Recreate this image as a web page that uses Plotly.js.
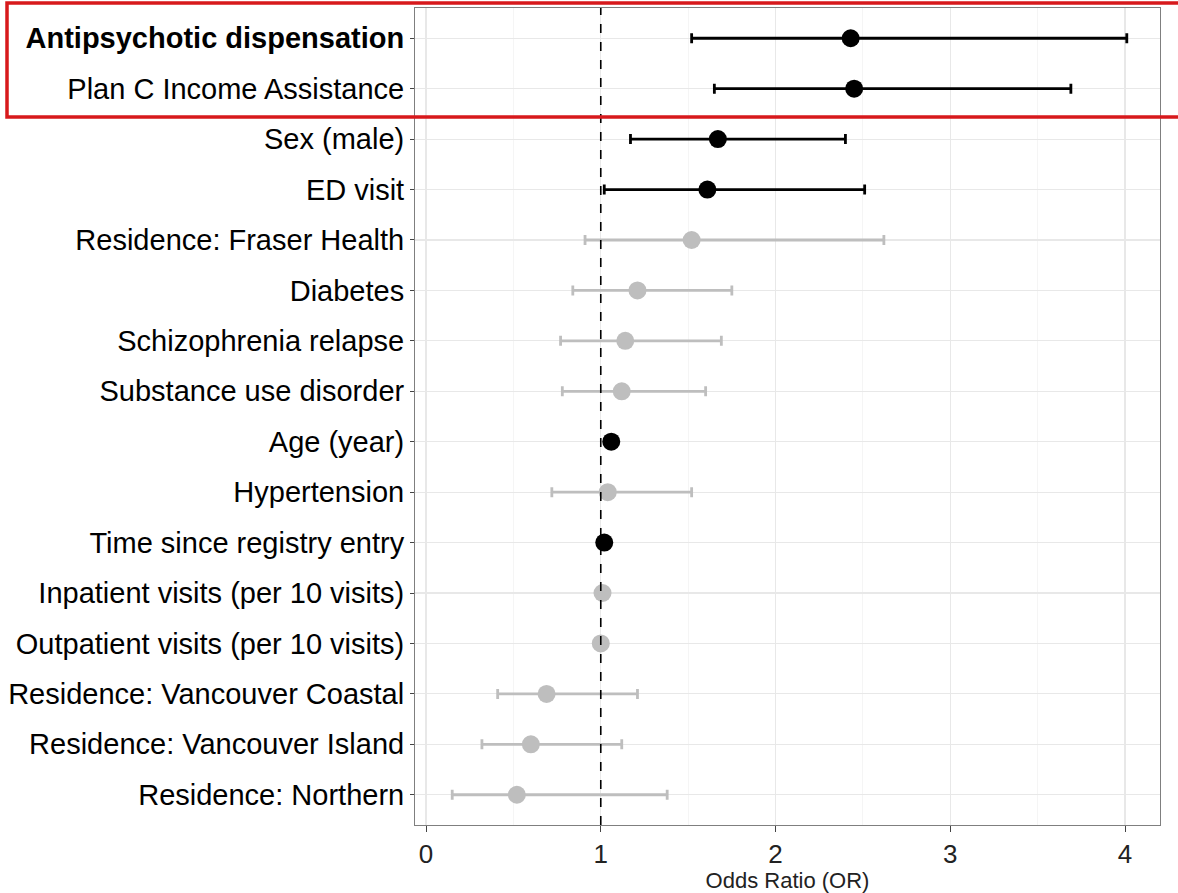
<!DOCTYPE html>
<html>
<head>
<meta charset="utf-8">
<script src="https://cdn.plot.ly/plotly-3.0.1.min.js"></script>
<style>html,body{margin:0;padding:0;background:#fff;}#chart{width:1178px;height:893px;}</style>
</head>
<body>
<div id="chart"></div>
<script>
// Data (top to bottom)
const categories = [
  "Antipsychotic dispensation",
  "Plan C Income Assistance",
  "Sex (male)",
  "ED visit",
  "Residence: Fraser Health",
  "Diabetes",
  "Schizophrenia relapse",
  "Substance use disorder",
  "Age (year)",
  "Hypertension",
  "Time since registry entry",
  "Inpatient visits (per 10 visits)",
  "Outpatient visits (per 10 visits)",
  "Residence: Vancouver Coastal",
  "Residence: Vancouver Island",
  "Residence: Northern"
];
const oddsRatio = [2.43, 2.45, 1.67, 1.61, 1.52, 1.21, 1.14, 1.12, 1.06, 1.04, 1.02, 1.01, 1.00, 0.69, 0.60, 0.52];
const ciLow     = [1.52, 1.65, 1.17, 1.02, 0.91, 0.84, 0.77, 0.78, 1.05, 0.72, 1.015, 1.005, 0.995, 0.41, 0.32, 0.15];
const ciHigh    = [4.01, 3.69, 2.40, 2.51, 2.62, 1.75, 1.69, 1.60, 1.07, 1.52, 1.025, 1.015, 1.005, 1.21, 1.12, 1.38];
const significant = [true, true, true, true, false, false, false, false, true, false, true, false, false, false, false, false];
const boldLabels = ["Antipsychotic dispensation"];
const xTicks = [0, 1, 2, 3, 4];

function subset(flag) {
  const idx = categories.map((c, i) => i).filter(i => significant[i] === flag);
  return {
    y: idx.map(i => categories[i]),
    x: idx.map(i => oddsRatio[i]),
    plus: idx.map(i => ciHigh[i] - oddsRatio[i]),
    minus: idx.map(i => oddsRatio[i] - ciLow[i])
  };
}

function makeTrace(flag, color) {
  const s = subset(flag);
  return {
    type: 'scatter', mode: 'markers',
    x: s.x, y: s.y,
    marker: {color: color, size: 18},
    error_x: {type: 'data', symmetric: false, array: s.plus, arrayminus: s.minus,
              color: color, thickness: 2.8, width: 5},
    hoverinfo: 'x+y', showlegend: false
  };
}

const traces = [makeTrace(false, '#bebebe'), makeTrace(true, '#000000')];

const L = 415, R = 18, T = 8, B = 68, W = 1178, H = 893;
const pw = W - L - R, ph = H - T - B;
const px2x = p => (p - L) / pw;
const py2y = p => (H - B - p) / ph;

const layout = {
  width: W, height: H,
  margin: {l: L, r: R, t: T, b: B},
  paper_bgcolor: '#ffffff', plot_bgcolor: '#ffffff',
  font: {family: 'Liberation Sans, Arial, sans-serif', color: '#000'},
  xaxis: {
    range: [-0.063, 4.2],
    tickvals: xTicks, ticktext: xTicks.map(String),
    tickfont: {size: 26, color: '#222'},
    ticks: 'outside', ticklen: 6, tickcolor: '#444', tickwidth: 1,
    showgrid: true, gridcolor: '#e8e8e8', gridwidth: 1.2,
    minor: {dtick: 0.5, tick0: 0, showgrid: true, gridcolor: '#f3f3f3', gridwidth: 0.8, ticks: ''},
    zeroline: false,
    showline: true, linecolor: '#7f7f7f', linewidth: 1, mirror: true,
    title: {text: 'Odds Ratio (OR)', font: {size: 22, color: '#222'}, standoff: 10}
  },
  yaxis: {
    type: 'category',
    categoryorder: 'array', categoryarray: categories,
    tickvals: categories,
    ticktext: categories.map(c => boldLabels.includes(c) ? '<b>' + c + '</b>' : c),
    range: [categories.length - 0.4, -0.6],
    tickfont: {size: 29, color: '#000'},
    ticks: 'outside', ticklen: 4, tickcolor: '#444', tickwidth: 1,
    showgrid: true, gridcolor: '#e8e8e8', gridwidth: 1.2,
    zeroline: false,
    showline: true, linecolor: '#7f7f7f', linewidth: 1, mirror: true
  },
  shapes: [
    {type: 'line', xref: 'x', yref: 'paper', x0: 1, x1: 1, y0: 0, y1: 1,
     line: {color: '#000', width: 1.6, dash: 'dash'}},
    {type: 'rect', xref: 'paper', yref: 'paper',
     x0: px2x(7), x1: px2x(1180), y0: py2y(117), y1: py2y(3),
     line: {color: '#d7191c', width: 3.5}, fillcolor: 'rgba(0,0,0,0)', layer: 'above'}
  ]
};

Plotly.newPlot('chart', traces, layout, {displayModeBar: false, staticPlot: true});
</script>
</body>
</html>
